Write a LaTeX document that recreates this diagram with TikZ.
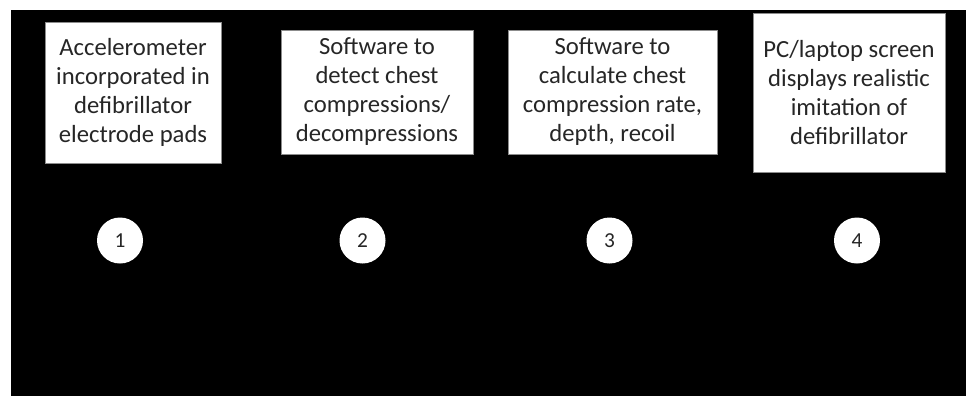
\documentclass[tikz,border=0pt]{standalone}
\usepackage{fontspec}
\setmainfont{Carlito}
\begin{document}
\begin{tikzpicture}[x=0.75pt,y=-0.75pt,
  stepbox/.style={fill=white,draw=black!45,line width=0.4pt,inner sep=0pt,align=center,
    font=\fontsize{18.5pt}{21.75pt}\selectfont,text=black!85},
  numdot/.style={circle,fill=white,draw=none,minimum size=34.5pt,inner sep=0pt,
    font=\fontsize{16pt}{18pt}\selectfont,text=black!85}]
\useasboundingbox (0,0) rectangle (966,396);
\fill[white] (0,0) rectangle (966,396);
\fill[black] (11,10) rectangle (966,396);
\node[stepbox,minimum width=132pt,minimum height=105.75pt] (b1) at (133,92.5)
  {Accelerometer\\incorporated in\\defibrillator\\electrode pads};
\node[stepbox,minimum width=144pt,minimum height=93pt] (b2) at (377,92)
  {Software to\\detect chest\\compressions/\\decompressions};
\node[stepbox,minimum width=156.75pt,minimum height=93pt] (b3) at (612.5,92)
  {Software to\\calculate chest\\compression rate,\\depth, recoil};
\node[stepbox,minimum width=144pt,minimum height=119.25pt] (b4) at (849,92.5)
  {PC/laptop screen\\displays realistic\\imitation of\\defibrillator};
\node[numdot] (n1) at (120,240.5) {1};
\node[numdot] (n2) at (362.5,240.5) {2};
\node[numdot] (n3) at (609.5,240.5) {3};
\node[numdot] (n4) at (857,240.5) {4};
\end{tikzpicture}
\end{document}
